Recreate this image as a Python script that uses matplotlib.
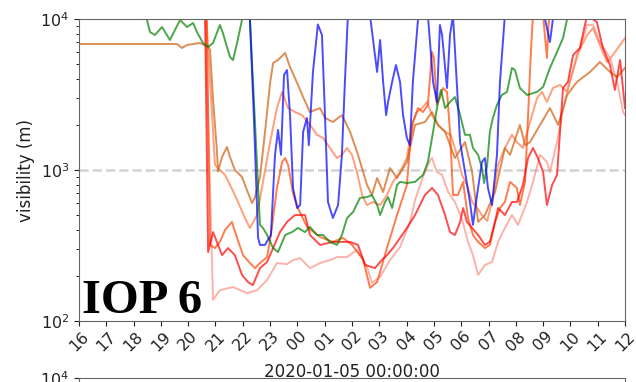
import matplotlib
matplotlib.use("Agg")
import matplotlib.pyplot as plt
import matplotlib.dates as mdates
import pandas as pd

# hours since 2020-01-04 00:00, visibility in m (2e4 = above the plot)
BASE = pd.Timestamp("2020-01-04")
OFF = 2e4

blue = [(16.0, OFF), (22.10, OFF), (22.26, 10000), (22.41, 2140), (22.56, 355), (22.63, 319),
        (22.81, 319), (23.03, 371), (23.18, 1260), (23.29, 1840), (23.40, 1260), (23.51, 4260),
        (23.62, 4590), (23.73, 2310), (23.84, 760), (23.99, 560), (24.10, 586), (24.21, 1790),
        (24.35, 2210), (24.42, 1460), (24.57, 4460), (24.75, 9200), (24.90, 7830), (25.01, 2310),
        (25.12, 614), (25.30, 481), (25.49, 586), (25.63, 1260), (25.74, 3830), (25.85, 10600),
        (26.20, 3e4), (26.66, 10600), (26.84, 5780), (26.92, 4460), (27.03, 7260), (27.14, 3830),
        (27.25, 2310), (27.32, 2820), (27.47, 3830), (27.61, 4960), (27.76, 3830), (27.87, 2310),
        (28.01, 1630), (28.12, 1460), (28.23, 3830), (28.38, 8200), (28.50, 1.5e4), (28.78, 10600),
        (28.97, 3830), (29.11, 2820), (29.22, 9130), (29.30, 7830), (29.48, 3490), (29.59, 7830),
        (29.70, 10600), (29.96, 1530), (30.14, 970), (30.32, 614), (30.43, 433), (30.58, 683),
        (30.76, 1130), (30.87, 1200), (30.98, 760), (31.13, 586), (31.31, 1260), (31.42, 3830),
        (31.60, 10600), (32.50, 3e4), (33.07, 10000), (33.25, 7040), (33.36, 10000), (33.50, OFF),
        (36.0, OFF)]

green = [(16.0, OFF), (18.45, 10600), (18.49, 9850), (18.60, 8200), (18.78, 7830), (19.04, 8850),
         (19.33, 7260), (19.70, 9850), (19.96, 8850), (20.18, 9410), (20.32, 8200), (20.54, 6940),
         (20.73, 6530), (20.91, 6940), (21.16, 9130), (21.27, 8080), (21.53, 5600), (21.64, 5350),
         (21.79, 6940), (21.97, 9850), (22.05, 1.2e4), (22.22, 1.2e4), (22.26, 10000), (22.45, 2000),
         (22.63, 433), (22.74, 413), (22.89, 371), (23.11, 304), (23.29, 286), (23.55, 371),
         (23.80, 388), (24.02, 413), (24.28, 388), (24.46, 420), (24.72, 371), (24.94, 371),
         (25.19, 334), (25.45, 319), (25.63, 371), (25.82, 481), (26.04, 527), (26.29, 653),
         (26.55, 662), (26.73, 683), (26.92, 586), (27.03, 503), (27.21, 614), (27.32, 662),
         (27.47, 560), (27.65, 796), (27.76, 834), (28.01, 820), (28.31, 834), (28.60, 927),
         (28.78, 1130), (28.97, 1790), (29.15, 2820), (29.26, 3390), (29.41, 2570), (29.59, 2820),
         (29.77, 3040), (29.96, 2310), (30.14, 1710), (30.32, 1710), (30.43, 1400), (30.62, 1260),
         (30.76, 1030), (30.84, 820), (30.95, 1080), (31.05, 1790), (31.16, 2210), (31.31, 2700),
         (31.49, 3140), (31.68, 3290), (31.86, 4740), (31.97, 4590), (32.15, 3490), (32.41, 3140),
         (32.78, 3290), (33.00, 3550), (33.25, 4740), (33.51, 6050), (33.73, 7480), (33.91, 10600),
         (34.20, OFF), (36.0, OFF)]

chocolate = [(16.0, 6830), (19.59, 6830), (19.77, 6430), (19.96, 6730), (20.43, 6940), (20.73, 6530),
             (20.80, 6230), (20.91, 2910), (21.05, 1360), (21.09, 980), (21.24, 1220), (21.42, 1420),
             (21.53, 1220), (21.71, 1000), (21.97, 900), (22.15, 738), (22.34, 604), (22.45, 662),
             (22.63, 900), (22.81, 1760), (23.00, 3770), (23.11, 5110), (23.29, 5350), (23.55, 5960),
             (23.73, 4810), (23.99, 3770), (24.21, 3040), (24.46, 2420), (24.83, 2570), (25.01, 2210),
             (25.30, 2080), (25.63, 2310), (25.93, 1790), (26.22, 1260), (26.55, 796), (26.73, 683),
             (26.92, 885), (27.14, 715), (27.39, 1030), (27.65, 885), (28.01, 1130), (28.31, 1990),
             (28.67, 2080), (28.93, 2420), (29.15, 1990), (29.41, 1790), (29.77, 1200), (30.14, 1530),
             (30.40, 970), (30.62, 453), (30.87, 503), (31.24, 715), (31.60, 1400), (31.79, 1260),
             (32.15, 1990), (32.34, 1460), (32.52, 1530), (32.89, 1990), (33.25, 2570), (33.55, 1990),
             (33.88, 3140), (34.24, 3830), (34.72, 4460), (35.08, 5190), (35.45, 4460), (35.71, 4130),
             (36.00, 4740)]

coral = [(16.0, OFF), (20.55, OFF), (20.67, 10000), (20.98, 1080), (21.35, 927), (21.71, 683),
         (22.08, 481), (22.26, 413), (22.52, 503), (22.74, 834), (23.00, 1530), (23.25, 2570),
         (23.44, 3290), (23.66, 2570), (23.91, 2420), (24.17, 2310), (24.46, 1990), (24.72, 1710),
         (24.94, 1630), (25.19, 1400), (25.45, 1200), (25.63, 1260), (25.82, 1400), (26.00, 1260),
         (26.18, 970), (26.37, 683), (26.55, 586), (26.77, 614), (27.03, 586), (27.28, 683),
         (27.50, 834), (27.76, 970), (28.01, 1200), (28.20, 1990), (28.38, 2420), (28.56, 2570),
         (28.75, 2820), (28.93, 2300), (29.15, 1990), (29.41, 1790), (29.62, 1700), (29.88, 1200),
         (30.03, 927), (30.21, 796), (30.40, 614), (30.58, 560), (30.76, 503), (30.95, 460),
         (31.13, 614), (31.35, 1080), (31.60, 1400), (31.86, 1710), (32.04, 1530), (32.26, 1400),
         (32.52, 2080), (32.78, 3000), (32.96, 3290), (33.14, 2820), (33.36, 3490), (33.62, 3660),
         (33.88, 3290), (34.24, 5780), (34.61, 7830), (34.83, 8720), (35.08, 6730), (35.34, 5190),
         (35.56, 5780), (35.82, 6730), (36.00, 7480)]

orangered = [(16.0, OFF), (20.55, OFF), (20.68, 10000), (20.80, 319), (20.98, 304), (21.16, 334),
             (21.35, 401), (21.60, 453), (21.79, 355), (22.01, 273), (22.26, 242), (22.45, 224),
             (22.63, 242), (22.89, 265), (23.03, 371), (23.25, 760), (23.44, 1130), (23.55, 1200),
             (23.66, 1080), (23.84, 700), (24.02, 560), (24.35, 420), (24.83, 360), (25.30, 334),
             (25.67, 355), (26.00, 319), (26.40, 258), (26.66, 166), (26.92, 181), (27.28, 304),
             (27.65, 503), (28.01, 796), (28.12, 1400), (28.23, 2080), (28.42, 2570), (28.60, 2420),
             (28.78, 2700), (28.93, 6050), (29.00, 5520), (29.11, 2700), (29.22, 3000), (29.33, 3490),
             (29.48, 3290), (29.59, 1790), (29.70, 683), (29.88, 683), (30.07, 834), (30.25, 481),
             (30.43, 371), (30.62, 334), (30.87, 304), (31.05, 319), (31.24, 453), (31.42, 560),
             (31.60, 614), (31.79, 834), (32.04, 760), (32.15, 586), (32.34, 834), (32.45, 2310),
             (32.56, 6430), (32.63, 10600), (32.80, 3e4), (33.00, 10600), (33.14, 5520),
             (33.22, 10600), (33.40, OFF), (36.0, OFF)]

red = [(16.0, OFF), (20.50, OFF), (20.62, 10000), (20.73, 286), (20.91, 388), (21.24, 273),
       (21.46, 304), (21.71, 273), (21.97, 202), (22.19, 181), (22.37, 173), (22.63, 224),
       (22.89, 246), (23.11, 304), (23.36, 388), (23.62, 453), (23.91, 503), (24.28, 503),
       (24.46, 371), (24.83, 319), (25.30, 334), (25.93, 334), (26.22, 319), (26.48, 235),
       (26.84, 224), (27.03, 246), (27.28, 273), (27.50, 304), (27.76, 355), (28.01, 413),
       (28.31, 503), (28.67, 683), (28.93, 760), (29.15, 683), (29.41, 503), (29.59, 388),
       (29.77, 371), (29.96, 453), (30.07, 560), (30.21, 453), (30.40, 413), (30.62, 371),
       (30.87, 319), (31.05, 334), (31.24, 453), (31.35, 560), (31.60, 503), (31.86, 614),
       (32.04, 614), (32.26, 796), (32.45, 1200), (32.63, 1400), (32.81, 1200), (33.00, 970),
       (33.14, 586), (33.33, 796), (33.51, 927), (33.62, 1790), (33.73, 3490), (33.91, 3830),
       (34.10, 5780), (34.35, 6430), (34.61, 10600), (34.97, 9550), (35.19, 6430), (35.45, 4960),
       (35.63, 3390), (35.82, 5350), (36.00, 2570)]

salmon = [(16.0, OFF), (20.50, OFF), (20.63, 10000), (20.91, 138), (21.16, 160), (21.64, 168),
          (22.15, 153), (22.52, 160), (22.89, 187), (23.25, 242), (23.62, 238), (23.84, 253),
          (24.10, 261), (24.46, 224), (24.83, 242), (25.19, 253), (25.45, 265), (25.82, 265),
          (26.18, 295), (26.55, 228), (26.73, 179), (27.03, 196), (27.39, 253), (27.76, 309),
          (28.12, 450), (28.31, 633), (28.60, 900), (28.86, 1160), (28.93, 1200), (29.11, 970),
          (29.30, 927), (29.52, 715), (29.77, 614), (30.03, 471), (30.25, 334), (30.43, 273),
          (30.62, 202), (30.87, 235), (31.13, 246), (31.35, 334), (31.60, 413), (31.86, 503),
          (32.08, 433), (32.41, 614), (32.63, 834), (32.89, 1260), (33.14, 1130), (33.25, 970),
          (33.51, 1530), (33.69, 2310), (33.91, 3490), (34.24, 5520), (34.61, 9130), (34.83, 9130),
          (35.08, 7040), (35.45, 5520), (35.71, 3830), (35.93, 2420), (36.00, 2310)]

series = [
    (salmon, "salmon", 0.6),
    (coral, "coral", 0.75),
    (chocolate, "chocolate", 0.75),
    (orangered, "orangered", 0.7),
    (red, "red", 0.7),
    (green, "green", 0.7),
    (blue, "blue", 0.7),
]


def to_times(pairs):
    hours = [p[0] for p in pairs]
    return (BASE + pd.to_timedelta(hours, unit="h")).to_numpy()


fig = plt.figure(figsize=(6.36, 3.82), dpi=100)
ax = fig.add_axes([79 / 636, 1 - 321 / 382, 546 / 636, 302 / 382])

for pairs, color, alpha in series:
    ax.plot(to_times(pairs), [p[1] for p in pairs], color=color, alpha=alpha, lw=1.4)

ax.axhline(1000, color="lightgray", ls="--", lw=1.8, zorder=0)

ax.set_yscale("log")
ax.set_ylim(100, 10000)
ax.set_xlim(BASE + pd.Timedelta(hours=16), BASE + pd.Timedelta(hours=36))
ax.xaxis.set_major_locator(mdates.HourLocator())
ax.xaxis.set_major_formatter(mdates.DateFormatter("%H"))
ax.tick_params(axis="x", labelrotation=45, labelsize=11.5, colors="#222222", pad=2)
ax.tick_params(axis="y", labelsize=11.5, colors="#222222")
ax.set_ylabel("visibility (m)", fontsize=12, color="#222222")
ax.set_xlabel("2020-01-05 00:00:00", fontsize=12, color="#222222", labelpad=7)
for sp in ax.spines.values():
    sp.set_color("#666666")

ax.text(0.006, 0.026, "IOP 6", transform=ax.transAxes, fontsize=35,
        fontweight="bold", family="Liberation Serif", va="baseline", ha="left")

# top of the next panel, cut off by the figure edge
ax2 = fig.add_axes([79 / 636, -0.5, 546 / 636, 0.5 + 4 / 382])
ax2.set_yscale("log")
ax2.set_ylim(100, 10000)
ax2.set_xticks([])
ax2.tick_params(axis="y", labelsize=11.5, colors="#222222")
for sp in ax2.spines.values():
    sp.set_color("#666666")

fig.savefig("out.png", dpi=100)
